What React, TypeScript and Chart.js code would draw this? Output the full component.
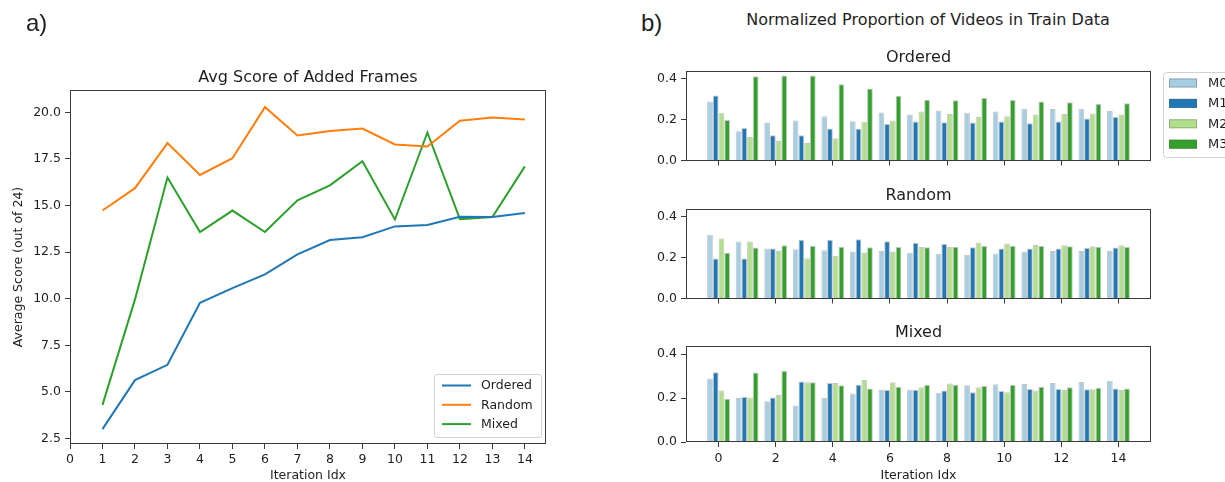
import React, { useEffect, useRef } from 'react';
import { Chart, registerables } from 'chart.js';

Chart.register(...registerables);

// ---------------- Data ----------------
const iterations = [1, 2, 3, 4, 5, 6, 7, 8, 9, 10, 11, 12, 13, 14];
const orderedScore = [3.0, 5.63, 6.45, 9.78, 10.57, 11.3, 12.38, 13.15, 13.3, 13.88, 13.95, 14.4, 14.38, 14.6];
const randomScore = [14.73, 15.93, 18.35, 16.64, 17.54, 20.28, 18.76, 19.0, 19.13, 18.28, 18.17, 19.55, 19.73, 19.62];
const mixedScore = [4.3, 9.96, 16.5, 13.58, 14.73, 13.58, 15.28, 16.08, 17.38, 14.25, 18.92, 14.27, 14.38, 17.1];
const lineLabels = ['Ordered', 'Random', 'Mixed'];

const barIdx = [0, 1, 2, 3, 4, 5, 6, 7, 8, 9, 10, 11, 12, 13, 14];
const modelNames = ['M0', 'M1', 'M2', 'M3'];

const ordM0 = [0.288, 0.143, 0.185, 0.195, 0.216, 0.192, 0.234, 0.225, 0.244, 0.233, 0.239, 0.253, 0.251, 0.253, 0.242];
const ordM1 = [0.317, 0.159, 0.123, 0.123, 0.156, 0.155, 0.178, 0.19, 0.187, 0.185, 0.19, 0.182, 0.19, 0.205, 0.213];
const ordM2 = [0.233, 0.115, 0.095, 0.086, 0.109, 0.189, 0.195, 0.239, 0.227, 0.213, 0.216, 0.225, 0.227, 0.23, 0.224];
const ordM3 = [0.198, 0.411, 0.415, 0.415, 0.372, 0.352, 0.316, 0.297, 0.294, 0.305, 0.296, 0.288, 0.285, 0.276, 0.28];

const rndM0 = [0.311, 0.278, 0.244, 0.24, 0.235, 0.229, 0.232, 0.223, 0.218, 0.214, 0.22, 0.229, 0.232, 0.232, 0.232];
const rndM1 = [0.195, 0.195, 0.244, 0.287, 0.287, 0.289, 0.279, 0.272, 0.266, 0.25, 0.244, 0.244, 0.244, 0.247, 0.249];
const rndM2 = [0.293, 0.278, 0.232, 0.197, 0.209, 0.224, 0.229, 0.252, 0.253, 0.273, 0.269, 0.261, 0.26, 0.255, 0.26];
const rndM3 = [0.223, 0.249, 0.26, 0.258, 0.253, 0.25, 0.252, 0.25, 0.253, 0.256, 0.258, 0.256, 0.255, 0.253, 0.252];

const mixM0 = [0.289, 0.2, 0.186, 0.166, 0.2, 0.221, 0.238, 0.238, 0.224, 0.258, 0.263, 0.264, 0.269, 0.273, 0.279];
const mixM1 = [0.318, 0.206, 0.203, 0.275, 0.269, 0.261, 0.237, 0.238, 0.235, 0.227, 0.232, 0.241, 0.241, 0.24, 0.243];
const mixM2 = [0.234, 0.203, 0.214, 0.272, 0.269, 0.282, 0.272, 0.249, 0.266, 0.249, 0.226, 0.234, 0.237, 0.24, 0.237];
const mixM3 = [0.197, 0.316, 0.324, 0.272, 0.258, 0.243, 0.252, 0.261, 0.261, 0.255, 0.26, 0.252, 0.249, 0.247, 0.243];

// ---------------- Styles ----------------
const lineColors = ['#1f77b4', '#ff7f0e', '#2ca02c'];
const barColors = ['#a6cee3', '#1f78b4', '#b2df8a', '#33a02c'];
const barEdge = 'rgba(90,90,90,0.35)';
const textColor = '#1e1e1e';
const axisColor = '#3a3a3a';
const FONT = 'DejaVu Sans';

Chart.defaults.font.family = FONT;
Chart.defaults.color = textColor;

const framePlugin = {
  id: 'frame',
  afterDraw(chart: any) {
    const { ctx, chartArea: a } = chart;
    ctx.save();
    ctx.strokeStyle = axisColor;
    ctx.lineWidth = 1;
    const l = Math.round(a.left) + 0.5;
    const t = Math.round(a.top) + 0.5;
    const r = Math.round(a.right) - 0.5;
    const b = Math.round(a.bottom) - 0.5;
    ctx.strokeRect(l, t, r - l, b - t);
    ctx.restore();
  },
};

function roundRectPath(ctx: CanvasRenderingContext2D, x: number, y: number, w: number, h: number, r: number) {
  ctx.beginPath();
  ctx.moveTo(x + r, y);
  ctx.lineTo(x + w - r, y);
  ctx.quadraticCurveTo(x + w, y, x + w, y + r);
  ctx.lineTo(x + w, y + h - r);
  ctx.quadraticCurveTo(x + w, y + h, x + w - r, y + h);
  ctx.lineTo(x + r, y + h);
  ctx.quadraticCurveTo(x, y + h, x, y + h - r);
  ctx.lineTo(x, y + r);
  ctx.quadraticCurveTo(x, y, x + r, y);
  ctx.closePath();
}

const lineLegendPlugin = {
  id: 'lineLegend',
  afterDraw(chart: any) {
    const { ctx, chartArea: a } = chart;
    const w = 107;
    const h = 63;
    const x0 = a.right - 5 - w;
    const y0 = a.bottom - 7 - h;
    ctx.save();
    roundRectPath(ctx, x0 + 0.5, y0 + 0.5, w, h, 3);
    ctx.fillStyle = 'rgba(255,255,255,0.85)';
    ctx.fill();
    ctx.strokeStyle = '#d0d0d0';
    ctx.lineWidth = 1;
    ctx.stroke();
    chart.data.datasets.forEach((ds: any, i: number) => {
      const y = y0 + 11.5 + i * 19.3;
      ctx.strokeStyle = ds.borderColor;
      ctx.lineWidth = 2;
      ctx.beginPath();
      ctx.moveTo(x0 + 8, y);
      ctx.lineTo(x0 + 37, y);
      ctx.stroke();
      ctx.fillStyle = textColor;
      ctx.font = `12.5px "${FONT}"`;
      ctx.textBaseline = 'middle';
      ctx.textAlign = 'left';
      ctx.fillText(ds.label, x0 + 47, y + 0.5);
    });
    ctx.restore();
  },
};

const barLegendPlugin = {
  id: 'barLegend',
  afterDraw(chart: any) {
    const { ctx, chartArea: a } = chart;
    const x0 = a.right + 12;
    const y0 = a.top + 1;
    ctx.save();
    roundRectPath(ctx, x0 + 0.5, y0 + 0.5, 100, 85, 3);
    ctx.fillStyle = 'rgba(255,255,255,0.85)';
    ctx.fill();
    ctx.strokeStyle = '#d0d0d0';
    ctx.lineWidth = 1;
    ctx.stroke();
    chart.data.datasets.forEach((ds: any, i: number) => {
      const cy = y0 + 11 + i * 20.4;
      ctx.fillStyle = ds.backgroundColor;
      ctx.fillRect(x0 + 6, cy - 4.5, 28, 9);
      ctx.strokeStyle = barEdge;
      ctx.lineWidth = 1;
      ctx.strokeRect(x0 + 6.5, cy - 4, 27, 8);
      ctx.fillStyle = textColor;
      ctx.font = `13px "${FONT}"`;
      ctx.textBaseline = 'middle';
      ctx.textAlign = 'left';
      ctx.fillText(ds.label, x0 + 45, cy + 0.5);
    });
    ctx.restore();
  },
};

function lineConfig(): any {
  const series = [orderedScore, randomScore, mixedScore];
  return {
    type: 'line',
    data: {
      datasets: series.map((vals, k) => ({
        label: lineLabels[k],
        data: iterations.map((x, i) => ({ x, y: vals[i] })),
        borderColor: lineColors[k],
        backgroundColor: lineColors[k],
        borderWidth: 2,
        pointRadius: 0,
        tension: 0,
        fill: false,
      })),
    },
    options: {
      animation: false,
      responsive: false,
      devicePixelRatio: 1,
      layout: { padding: { top: 90, right: 14, left: 0, bottom: 0 }, autoPadding: false },
      plugins: { legend: { display: false }, tooltip: { enabled: false } },
      scales: {
        x: {
          type: 'linear',
          min: 0,
          max: 14.65,
          grid: { drawOnChartArea: false, drawTicks: true, tickLength: 5, color: axisColor },
          border: { display: false },
          ticks: {
            stepSize: 1,
            includeBounds: false,
            autoSkip: false,
            maxRotation: 0,
            padding: 3,
            font: { size: 12.5 },
            color: textColor,
            callback: (v: any) => String(v),
          },
          title: {
            display: true,
            text: 'Iteration Idx',
            font: { size: 12.5, lineHeight: 1 },
            padding: { top: 0, bottom: 0 },
            color: textColor,
          },
          afterFit: (s: any) => {
            s.height = 38;
          },
        },
        y: {
          type: 'linear',
          min: 2.2,
          max: 21.2,
          grid: { drawOnChartArea: false, drawTicks: true, tickLength: 5, color: axisColor },
          border: { display: false },
          ticks: {
            stepSize: 2.5,
            includeBounds: false,
            padding: 4,
            font: { size: 12.5 },
            color: textColor,
            callback: (v: any) => Number(v).toFixed(1),
          },
          title: {
            display: true,
            text: 'Average Score (out of 24)',
            font: { size: 12.5, lineHeight: 1.2 },
            padding: { top: 11, bottom: 0 },
            color: textColor,
          },
          afterFit: (s: any) => {
            s.width = 70;
          },
        },
      },
    },
    plugins: [framePlugin, lineLegendPlugin],
  };
}

function barConfig(series: number[][], o: { padTop: number; padRight: number; xH: number; showX: boolean; legend: boolean }): any {
  return {
    type: 'bar',
    data: {
      datasets: series.map((vals, k) => ({
        label: modelNames[k],
        data: barIdx.map((x, i) => ({ x, y: vals[i] })),
        backgroundColor: barColors[k],
        borderColor: barEdge,
        borderWidth: 1,
        borderSkipped: 'start',
        categoryPercentage: 0.8,
        barPercentage: 1.0,
      })),
    },
    options: {
      animation: false,
      responsive: false,
      devicePixelRatio: 1,
      layout: { padding: { top: o.padTop, right: o.padRight, left: 0, bottom: 0 }, autoPadding: false },
      plugins: { legend: { display: false }, tooltip: { enabled: false } },
      scales: {
        x: {
          type: 'linear',
          offset: false,
          min: -1.14,
          max: 15.14,
          grid: { offset: false, drawOnChartArea: false, drawTicks: true, tickLength: 5, color: axisColor },
          border: { display: false },
          ticks: {
            display: o.showX,
            stepSize: 2,
            includeBounds: false,
            autoSkip: false,
            maxRotation: 0,
            padding: 4,
            font: { size: 12.5 },
            color: textColor,
            callback: (v: any) => String(v),
          },
          title: {
            display: o.showX,
            text: 'Iteration Idx',
            font: { size: 12.5, lineHeight: 1 },
            padding: { top: 0, bottom: 0 },
            color: textColor,
          },
          afterFit: (s: any) => {
            s.height = o.xH;
          },
        },
        y: {
          type: 'linear',
          min: 0,
          max: 0.437,
          grid: { drawOnChartArea: false, drawTicks: true, tickLength: 5, color: axisColor },
          border: { display: false },
          ticks: {
            stepSize: 0.2,
            includeBounds: false,
            padding: 4,
            font: { size: 12.5 },
            color: textColor,
            callback: (v: any) => Number(v).toFixed(1),
          },
          afterFit: (s: any) => {
            s.width = 56;
          },
        },
      },
    },
    plugins: o.legend ? [framePlugin, barLegendPlugin] : [framePlugin],
  };
}

// Text placed by baseline (line-height 1 => baseline at ~0.846em from top)
function Txt(props: { x: number; baseline: number; size: number; family?: string; center?: boolean; children: string }) {
  const { x, baseline, size, family, center, children } = props;
  return (
    <div
      style={{
        position: 'absolute',
        left: x,
        top: baseline - 0.846 * size,
        fontSize: size,
        lineHeight: 1,
        fontFamily: family || `"${FONT}"`,
        color: textColor,
        whiteSpace: 'nowrap',
        transform: center ? 'translateX(-50%)' : undefined,
      }}
    >
      {children}
    </div>
  );
}

export default function App() {
  const lineRef = useRef<HTMLCanvasElement>(null);
  const ordRef = useRef<HTMLCanvasElement>(null);
  const rndRef = useRef<HTMLCanvasElement>(null);
  const mixRef = useRef<HTMLCanvasElement>(null);

  useEffect(() => {
    const charts: Chart[] = [];
    if (lineRef.current) charts.push(new Chart(lineRef.current, lineConfig()));
    if (ordRef.current)
      charts.push(
        new Chart(ordRef.current, barConfig([ordM0, ordM1, ordM2, ordM3], { padTop: 31, padRight: 79, xH: 6, showX: false, legend: true }))
      );
    if (rndRef.current)
      charts.push(
        new Chart(rndRef.current, barConfig([rndM0, rndM1, rndM2, rndM3], { padTop: 29, padRight: 79, xH: 6, showX: false, legend: false }))
      );
    if (mixRef.current)
      charts.push(
        new Chart(mixRef.current, barConfig([mixM0, mixM1, mixM2, mixM3], { padTop: 26, padRight: 79, xH: 40, showX: true, legend: false }))
      );
    return () => charts.forEach((c) => c.destroy());
  }, []);

  const abs = (left: number, top: number): React.CSSProperties => ({ position: 'absolute', left, top, display: 'block' });

  return (
    <div style={{ position: 'absolute', left: 0, top: 0, width: 1225, height: 482, overflow: 'hidden', background: '#fff' }}>
      <canvas ref={lineRef} width={560} height={482} style={abs(0, 0)} />
      <canvas ref={ordRef} width={600} height={132} style={abs(630, 40)} />
      <canvas ref={rndRef} width={600} height={130} style={abs(630, 180)} />
      <canvas ref={mixRef} width={600} height={162} style={abs(630, 320)} />

      <Txt x={26} baseline={31} size={24} family='"Liberation Sans"'>a)</Txt>
      <Txt x={641} baseline={31} size={24} family='"Liberation Sans"'>b)</Txt>
      <Txt x={308} baseline={82.5} size={16} center>Avg Score of Added Frames</Txt>
      <Txt x={928} baseline={26} size={16} center>Normalized Proportion of Videos in Train Data</Txt>
      <Txt x={918.5} baseline={63} size={16} center>Ordered</Txt>
      <Txt x={918.5} baseline={201} size={16} center>Random</Txt>
      <Txt x={918.5} baseline={338} size={16} center>Mixed</Txt>
    </div>
  );
}
